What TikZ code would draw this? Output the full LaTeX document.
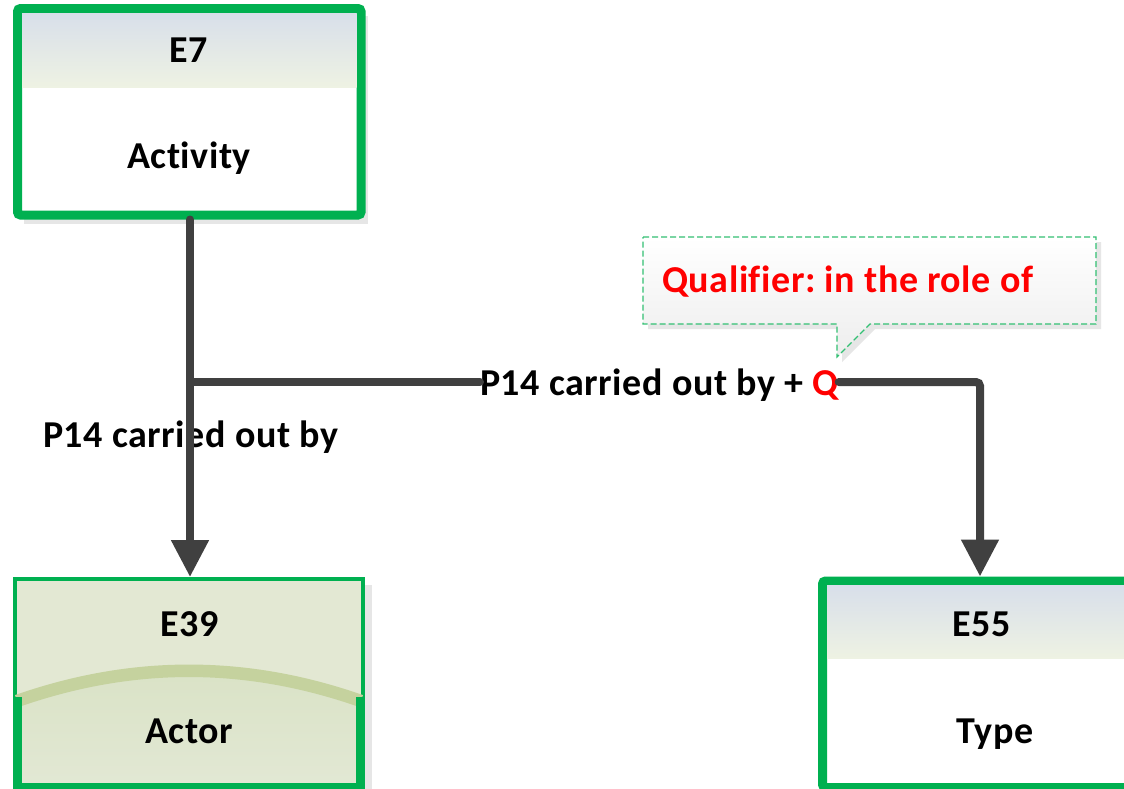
\documentclass[tikz,border=0pt]{standalone}
\usepackage{fontspec}
\setmainfont{Carlito}[Ligatures=NoCommon, LetterSpace=1.5]
\frenchspacing
\usetikzlibrary{arrows.meta}
\definecolor{cgreen}{HTML}{00B050}
\definecolor{cline}{HTML}{404040}
\definecolor{qred}{HTML}{FF0000}
\definecolor{hdtop}{HTML}{D8DFEA}
\definecolor{hdbot}{HTML}{EEF2E3}
\definecolor{actop}{HTML}{E3E8D3}
\definecolor{acband}{HTML}{C5D29E}
\definecolor{aclow}{HTML}{D9E2C5}
\definecolor{aclowb}{HTML}{E2E8D4}
\definecolor{shad}{HTML}{E6E6E6}
\begin{document}
\begin{tikzpicture}[x=1pt,y=-1pt,
  txt/.style={font=\fontsize{38}{45}\selectfont\bfseries, inner sep=0pt, anchor=base},
  entbox/.style={draw=cgreen, line width=9pt, fill=white, rounded corners=3pt, inner sep=0pt},
  conn/.style={draw=cline, line width=8pt, line cap=round},
  tip/.style={-{Triangle[length=37pt,width=36pt]}}
]
\clip (0,0) rectangle (1124,788);
\fill[white] (0,0) rectangle (1124,788);

% ---- E7 ----
\fill[shad] (24,16) rectangle (368,224);
\node[entbox, minimum width=343.5pt, minimum height=206.5pt] (e7) at (189.25,111.75) {};
\shade[top color=hdtop, bottom color=hdbot] (22,13) rectangle (356.5,87);
\node[txt] (e7a) at (189,62) {E7};
\node[txt] (e7b) at (189,168) {Activity};

% ---- E39 ----
\fill[shad] (22,585) rectangle (372,792);
\node[draw=cgreen, line width=4pt, fill=actop, minimum width=348pt, minimum height=208.5pt, inner sep=0pt] (e39) at (189,683.25) {};
\shade[top color=aclow, bottom color=aclowb] (17,701) .. controls (132,660.7) and (246,660.7) .. (361,701) -- (361,786) -- (17,786) -- cycle;
\draw[acband, line width=12.5pt] (17,701) .. controls (132,660.7) and (246,660.7) .. (361,701);
\draw[cgreen, line width=9pt] (17.5,697) -- (17.5,787.5) -- (360.5,787.5) -- (360.5,697);
\node[txt] (e39a) at (190,636) {E39};
\node[txt] (e39b) at (189,743) {Actor};

% ---- E55 ----
\node[entbox, minimum width=315pt, minimum height=206.5pt] (e55) at (980,684.25) {};
\shade[top color=hdtop, bottom color=hdbot] (827,585.5) rectangle (1124,658);
\node[txt] (e55a) at (982,636) {E55};
\node[txt] (e55b) at (995,743) {Type};

% ---- callout ----
\fill[shad] (648,242) -- (1101,242) -- (1101,329) -- (875,329) -- (842,362) -- (842,329) -- (648,329) -- cycle;
\shade[top color=white, bottom color=black!7, draw=cgreen!80!white, line width=1.2pt, dash pattern=on 6pt off 3pt]
  (643,237) -- (1096,237) -- (1096,324) -- (870,324) -- (837,357) -- (837,324) -- (643,324) -- cycle;
\node[txt, anchor=base west, text=qred] (qual) at (662,292) {Qualifier: in the role of};

% ---- connectors ----
\coordinate (j) at (190,382);
\node[txt, anchor=base west] (p14b) at (480,395) {P14 carried out by + \textcolor{qred}{Q}};
\node[txt, anchor=base west] (p14a) at (43,447) {P14 carried out by};
\draw[conn, tip] (e7.south -| j) -- (e39.north -| j);
\draw[conn] (j) -- (j -| p14b.west);
\draw[conn, tip, rounded corners=4pt] (j -| p14b.east) -| (e55.north);
\end{tikzpicture}
\end{document}
